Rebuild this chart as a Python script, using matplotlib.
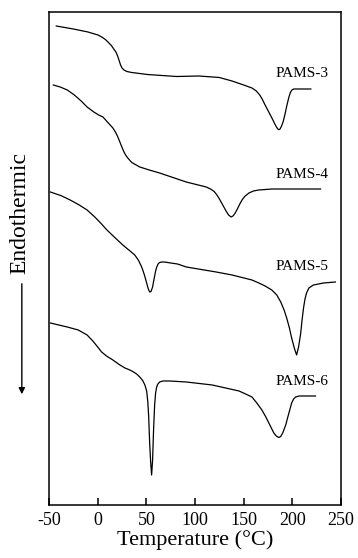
import numpy as np
import matplotlib
matplotlib.use("Agg")
import matplotlib.pyplot as plt

plt.rcParams['font.family'] = ['Liberation Serif', 'DejaVu Serif']

# DSC traces (temperature in deg C, heat flow in arbitrary units)
t_pams3 = [-42.6, -25, -10, 0.3, 5, 8.5, 11.5, 14, 16.5, 18.7, 20.5, 22, 23.5, 25, 27, 30, 35,
           51, 81, 104, 125, 138, 150, 158.5, 163, 166.5, 169, 172, 175.8, 179, 182, 184,
           185.5, 187, 188.5, 190.5, 192.5, 194.5, 196.5, 198, 199.5, 201.5, 204, 219]
hf_pams3 = [47.9, 47.6, 47.3, 47.0, 46.75, 46.5, 46.2, 45.95, 45.6, 45.3, 44.9, 44.45, 44.0, 43.7,
            43.5, 43.35, 43.25, 43.05, 42.85, 42.9, 42.75, 42.4, 42.0, 41.7, 41.4, 41.0, 40.6,
            40.0, 39.3, 38.7, 38.1, 37.75, 37.55, 37.55, 37.8, 38.3, 39.1, 40.0, 40.8, 41.25,
            41.5, 41.6, 41.6, 41.6]

t_pams4 = [-45.6, -38.5, -31.3, -24, -17, -10.9, -4, 1, 5.4, 10, 15.6, 18.5, 20.7, 22.8, 24.8,
           27, 29, 30.9, 35, 43.2, 53, 63.6, 91, 111.5, 116, 119.7, 122.5, 124.8, 128.5, 131.9,
           134.5, 137, 139, 141, 143.5, 146, 148.3, 151, 155.4, 160, 165.6, 179, 229]
hf_pams4 = [42.0, 41.8, 41.5, 41.0, 40.4, 39.8, 39.3, 39.0, 38.8, 38.3, 37.7, 37.25, 36.8, 36.3,
            35.8, 35.3, 34.95, 34.7, 34.25, 33.8, 33.5, 33.2, 32.3, 31.8, 31.6, 31.35, 31.0, 30.65,
            30.0, 29.4, 29.0, 28.8, 28.9, 29.15, 29.6, 30.1, 30.5, 30.85, 31.2, 31.4, 31.5, 31.6, 31.6]

t_pams5 = [-48.7, -38, -28.3, -19, -10.9, -3, 3, 9.5, 17, 25.8, 32, 38.1, 42, 45.2, 47, 48.3,
           50.3, 52, 53.4, 54.8, 56.4, 57.5, 58.5, 59.5, 60.5, 62, 63.6, 66, 68.7, 75, 82, 91.1,
           121.7, 138.1, 158.5, 165.6, 172, 178.9, 184, 188.1, 191.5, 194.2, 197, 199.3, 202.3,
           204.4, 206.4, 208.5, 210, 211.5, 213, 214.6, 217, 221.7, 232, 244.2]
hf_pams5 = [31.3, 30.95, 30.5, 30.0, 29.5, 28.8, 28.2, 27.5, 26.8, 26.0, 25.5, 25.0, 24.45, 23.8,
            23.3, 22.9, 22.2, 21.6, 21.3, 21.35, 21.8, 22.4, 22.9, 23.4, 23.75, 24.1, 24.25, 24.3,
            24.3, 24.2, 24.1, 23.8, 23.3, 23.0, 22.5, 22.2, 21.9, 21.5, 21.0, 20.3, 19.5, 18.7,
            17.7, 16.7, 15.6, 15.0, 15.8, 17.1, 18.5, 19.7, 20.6, 21.2, 21.7, 22.0, 22.2, 22.3]

t_pams6 = [-48.7, -40, -31.3, -20, -10.9, -5, 0, 4, 9, 15.6, 22.8, 28, 33, 36, 40, 43.2, 46.2,
           48.5, 50.3, 51.5, 52.3, 53.4, 54.4, 55.4, 56.4, 57.4, 58.5, 59.5, 60.5, 61.5, 63.6,
           67, 73.8, 91.1, 117.7, 145.2, 152, 158.5, 163.5, 168.7, 172.8, 177.9, 181, 183.5,
           186, 188, 190.1, 193.2, 196.2, 199.3, 201.3, 203.4, 207, 223.8]
hf_pams6 = [18.2, 18.0, 17.8, 17.5, 17.0, 16.4, 15.8, 15.3, 14.9, 14.5, 14.0, 13.7, 13.5, 13.35,
            13.1, 12.8, 12.45, 12.0, 11.4, 10.3, 9.0, 6.2, 4.3, 3.0, 4.5, 7.5, 10.0, 11.2, 11.75,
            12.05, 12.3, 12.4, 12.4, 12.3, 12.0, 11.4, 11.1, 10.8, 10.2, 9.5, 8.8, 7.8, 7.2, 6.9,
            6.75, 6.85, 7.2, 8.0, 9.1, 10.2, 10.6, 10.8, 10.9, 10.9]

labels = ['PAMS-3', 'PAMS-4', 'PAMS-5', 'PAMS-6']
label_y = [42.8, 32.7, 23.5, 12.0]
x_ticks = [-50, 0, 50, 100, 150, 200, 250]

fig = plt.figure(figsize=(3.58, 5.58), dpi=100)
ax = fig.add_axes([0.137, 0.095, 0.8155, 0.8835])

series = [(t_pams3, hf_pams3), (t_pams4, hf_pams4), (t_pams5, hf_pams5), (t_pams6, hf_pams6)]
for (t, hf), name, ly in zip(series, labels, label_y):
    ax.plot(t, hf, color='black', lw=0.9, solid_joinstyle='round')
    ax.text(237, ly, name, ha='right', va='baseline', fontsize=11)

ax.set_xlim(-50, 250)
ax.set_ylim(0, 49.3)
ax.set_xticks(x_ticks)
ax.set_xticklabels([str(v) for v in x_ticks], fontsize=13)
ax.set_yticks([])
ax.tick_params(axis='x', direction='in', length=5, width=1.1, pad=5)
for s in ax.spines.values():
    s.set_linewidth(1.1)
ax.set_xlabel('Temperature (°C)', fontsize=16, labelpad=1)

# y label with downward arrow
fig.text(0.056, 1 - 213 / 558, 'Endothermic', rotation=90, ha='center', va='center', fontsize=17)
ax.annotate('', xy=(0.061, 1 - 397 / 558), xytext=(0.061, 1 - 281 / 558),
            xycoords='figure fraction', textcoords='figure fraction',
            arrowprops=dict(arrowstyle='-|>', color='black', lw=1.0, mutation_scale=9))

fig.savefig('out.png', dpi=100)
